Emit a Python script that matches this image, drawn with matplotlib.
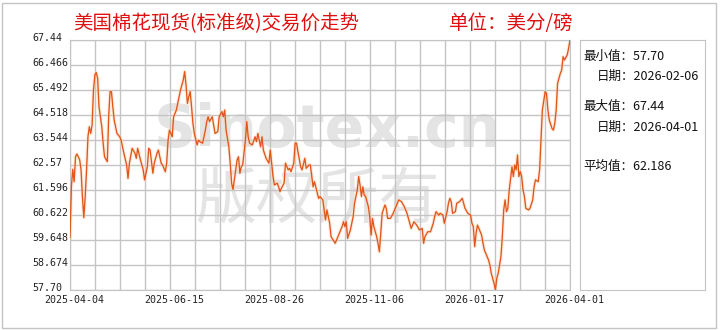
import matplotlib
matplotlib.use("Agg")
import matplotlib.pyplot as plt
import numpy as np
from matplotlib.patches import Rectangle
from matplotlib.transforms import ScaledTranslation

plt.rcParams['font.family'] = ['DejaVu Sans Mono', 'Noto Sans CJK SC']

# jours depuis 2025-04-04 et prix (美分/磅)
days = [0, 1, 2, 3, 4, 5, 7, 8, 9, 10, 11, 12, 13, 14, 15, 16, 17, 18, 19, 20,
        21, 23, 24, 25, 27, 28, 29, 30, 31, 32, 34, 36, 37, 39, 41, 42, 43, 45, 47, 48,
        49, 51, 53, 54, 56, 57, 58, 60, 61, 63, 64, 66, 67, 69, 70, 71, 72, 73, 74, 75,
        76, 77, 79, 80, 82, 83, 84, 85, 86, 87, 88, 89, 90, 92, 93, 94, 96, 98, 99, 100,
        101, 103, 104, 105, 107, 108, 110, 111, 112, 113, 115, 116, 117, 118, 120, 121, 122, 123, 124, 125,
        127, 128, 129, 130, 132, 134, 135, 136, 138, 139, 140, 142, 144, 145, 146, 147, 148, 150, 151, 152,
        153, 155, 156, 158, 159, 160, 162, 163, 164, 165, 167, 168, 170, 171, 173, 174, 176, 177, 180, 181,
        183, 185, 186, 188, 189, 192, 193, 195, 197, 198, 199, 200, 201, 203, 205, 206, 208, 209, 210, 211,
        212, 213, 214, 216, 217, 218, 219, 220, 222, 223, 224, 225, 226, 228, 229, 230, 232, 234, 236, 238,
        240, 242, 244, 246, 247, 249, 251, 253, 255, 256, 257, 259, 261, 263, 264, 265, 267, 268, 270, 271,
        273, 274, 275, 276, 277, 279, 280, 282, 284, 285, 286, 288, 290, 291, 292, 293, 294, 295, 296, 298,
        299, 300, 302, 303, 304, 305, 307, 308, 309, 310, 311, 312, 313, 314, 315, 316, 317, 318, 320, 321,
        322, 323, 324, 325, 326, 327, 328, 329, 330, 332, 333, 335, 336, 337, 339, 340, 341, 342, 344, 345,
        346, 347, 349, 350, 351, 352, 353, 355, 356, 357, 358, 360, 361, 362]
prices = [59.75, 61.72, 62.40, 61.92, 62.89, 63.00, 62.77, 62.38, 61.34, 60.52, 61.34, 62.38, 63.67, 64.06, 63.80, 64.13, 65.49, 66.08, 66.17, 65.95,
          64.84, 64.06, 63.42, 62.89, 62.70, 64.45, 65.43, 65.43, 64.84, 64.32, 63.80, 63.67, 63.54, 63.03, 62.57, 62.05, 62.64, 63.22, 63.03, 62.83,
          63.22, 62.77, 62.38, 61.99, 62.50, 63.22, 63.15, 62.25, 62.64, 63.03, 63.15, 62.64, 62.57, 62.31, 62.64, 63.54, 63.93, 63.80, 63.67, 64.45,
          64.58, 64.71, 65.23, 65.49, 65.88, 66.21, 65.69, 64.97, 65.23, 65.43, 64.84, 64.19, 63.80, 63.35, 63.54, 63.48, 63.42, 63.93, 64.26, 64.45,
          64.26, 64.45, 64.13, 63.80, 63.87, 64.45, 64.65, 64.45, 64.71, 63.93, 63.28, 62.64, 61.86, 61.62, 62.38, 62.77, 62.89, 62.25, 62.50, 62.57,
          63.54, 64.26, 63.67, 63.42, 63.35, 63.67, 63.48, 63.80, 63.28, 63.67, 63.15, 62.83, 62.64, 63.15, 62.64, 62.12, 61.79, 61.86, 61.73, 61.53,
          61.66, 61.86, 62.64, 62.38, 62.44, 62.31, 62.64, 63.42, 63.42, 63.09, 62.50, 62.38, 62.83, 62.44, 62.57, 62.57, 61.72, 61.92, 61.27, 61.34,
          61.21, 60.43, 60.82, 60.30, 59.78, 59.52, 59.65, 59.91, 60.17, 60.36, 60.17, 60.36, 59.71, 60.04, 60.56, 61.08, 61.60, 62.12, 61.79, 61.34,
          61.72, 61.40, 61.34, 60.95, 60.56, 59.84, 60.49, 60.17, 59.78, 59.52, 59.19, 59.91, 60.69, 61.01, 60.88, 60.49, 60.49, 60.69, 60.95, 61.21,
          61.14, 60.95, 60.69, 60.30, 60.10, 60.36, 60.23, 60.04, 60.10, 59.52, 59.78, 59.97, 59.97, 60.30, 60.56, 60.75, 60.62, 60.69, 60.62, 60.30,
          60.75, 61.08, 61.27, 61.14, 60.69, 60.75, 61.08, 61.14, 61.27, 61.08, 60.88, 60.69, 60.62, 60.30, 60.17, 59.39, 59.91, 60.23, 60.10, 59.84,
          59.52, 59.26, 59.00, 58.87, 58.67, 58.35, 57.96, 57.70, 58.16, 58.35, 58.67, 59.00, 59.78, 60.82, 61.21, 60.75, 60.88, 61.60, 62.50, 62.12,
          62.57, 62.38, 62.96, 62.12, 62.31, 62.12, 61.60, 61.34, 60.88, 60.82, 60.88, 61.21, 61.72, 61.99, 61.92, 62.38, 63.54, 64.71, 65.43, 65.36,
          64.71, 64.32, 63.99, 63.93, 64.19, 64.71, 65.75, 66.14, 66.27, 66.79, 66.66, 66.86, 67.12, 67.44]

y_labels = ['57.70', '58.674', '59.648', '60.622', '61.596', '62.57',
            '63.544', '64.518', '65.492', '66.466', '67.44']
x_labels = ['2025-04-04', '2025-06-15', '2025-08-26', '2025-11-06', '2026-01-17', '2026-04-01']
stats = ['最小值：57.70', '日期：2026-02-06', '最大值：67.44', '日期：2026-04-01', '平均值：62.186']

titre = '美国棉花现货(标准级)交易价走势'
unite = '单位：美分/磅'

gris = '#c4c4c4'
cjk = ['Noto Sans CJK SC', 'DejaVu Sans']

fig = plt.figure(figsize=(7.2, 3.3), dpi=100)
ax = fig.add_axes([70/720, 40/330, 500/720, 250/330])

# filigrane
ax.text(0.514, 0.64, 'Sinotex.cn', transform=ax.transAxes, ha='center', va='center',
        fontsize=42, fontweight='bold', color='#e4e4e4', family='DejaVu Sans', zorder=0)
ax.text(0.494, 0.36, '版权所有', transform=ax.transAxes, ha='center', va='center',
        fontsize=44, color='#e4e4e4', family=cjk, zorder=0)

ax.plot(days, prices, color='#fbd3b3', lw=2.6, alpha=0.45, zorder=2)
ax.plot(days, prices, color='#e0561c', lw=0.95, zorder=3)

ax.set_xlim(days[0], days[-1])
ax.set_ylim(57.70, 67.44)

ax.set_yticks(np.linspace(57.70, 67.44, 11))
ax.set_yticklabels(y_labels)
xt = np.linspace(days[0], days[-1], 21)
ax.set_xticks(xt)
ax.set_xticklabels([x_labels[i // 4] if i % 4 == 0 else '' for i in range(21)])

ax.grid(True, color=gris, lw=1, zorder=1)
ax.set_axisbelow(True)
for s in ax.spines.values():
    s.set_color(gris)
ax.tick_params(axis='both', length=0, labelsize=7.2, labelcolor='#222222')
ax.tick_params(axis='y', pad=27.4)
ax.tick_params(axis='x', pad=3.5)
for lab in ax.get_yticklabels():
    lab.set_ha('left')
    lab.set_transform(lab.get_transform() + ScaledTranslation(0, 0.03, fig.dpi_scale_trans))
for lab in ax.get_xticklabels():
    lab.set_transform(lab.get_transform() + ScaledTranslation(0.04, 0, fig.dpi_scale_trans))

# panneau de droite
rax = fig.add_axes([580/720, 40/330, 125/720, 250/330])
rax.set_xticks([])
rax.set_yticks([])
for s in rax.spines.values():
    s.set_color(gris)

pos = [(583, 56), (597, 76), (583, 106), (597, 127), (583, 166)]
for txt, (px, py) in zip(stats, pos):
    fig.text(px/720, 1 - py/330, txt, ha='left', va='center', fontsize=9,
             family=cjk, color='#111111')

fig.text(73/720, 1 - 24/330, titre, ha='left', va='center', fontsize=14,
         family=cjk, color='#e01010')
fig.text(449/720, 1 - 24/330, unite, ha='left', va='center', fontsize=14,
         family=cjk, color='#e01010')

fig.add_artist(Rectangle((2/720, 2/330), 714/720, 325/330, transform=fig.transFigure,
                         fill=False, edgecolor=gris, lw=1))

fig.savefig('out.png', dpi=100)
